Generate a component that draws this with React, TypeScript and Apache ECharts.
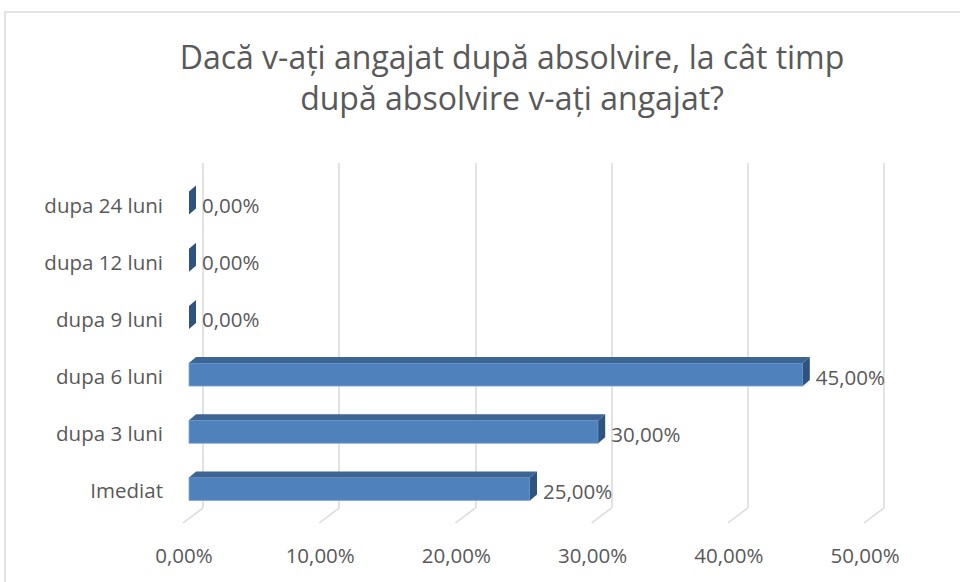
import React, { useEffect, useRef } from "react";
import * as echarts from "echarts";

const titleLines = ["Dacă v-ați angajat după absolvire, la cât timp", "după absolvire v-ați angajat?"];
const categories = ["Imediat", "dupa 3 luni", "dupa 6 luni", "dupa 9 luni", "dupa 12 luni", "dupa 24 luni"];
const values = [25, 30, 45, 0, 0, 0];
const xTicks = [0, 10, 20, 30, 40, 50];

const FONT = "'Open Sans', sans-serif";
const TEXT = "#595959";
const GRID = "#d9d9d9";
const LABEL_SIZE = 20.5;
const fmt = (v: number) => v.toFixed(2).replace(".", ",") + "%";

export default function App() {
  const ref = useRef<HTMLDivElement>(null);
  useEffect(() => {
    if (!ref.current) return;
    const chart = echarts.init(ref.current, null, { renderer: "svg" });
    const D = 7, DY = 6, BH = 23;
    chart.setOption({
      animation: false,
      backgroundColor: "#fff",
      title: {
        text: titleLines.join("\n"),
        left: 507,
        textAlign: "center",
        top: 31,
        textStyle: { fontFamily: FONT, fontSize: 32, fontWeight: "normal", color: TEXT, lineHeight: 41 },
      },
      graphic: [
        { type: "rect", shape: { x: 5, y: 12, width: 1100, height: 700 }, style: { fill: "none", stroke: GRID, lineWidth: 1.5 }, silent: true, z: -10 },
      ],
      grid: [
        { left: 203, width: 681, top: 163, height: 345 },
        { left: 189, width: 682, top: 176, height: 343 },
      ],
      xAxis: [
        {
          gridIndex: 0, type: "value", min: 0, max: 50, interval: 10,
          axisLine: { show: false }, axisTick: { show: false },
          splitLine: { show: true, lineStyle: { color: GRID, width: 1.5 } },
          axisLabel: { formatter: fmt, color: TEXT, fontFamily: FONT, fontSize: LABEL_SIZE, margin: 36, padding: [0, 38, 0, 0] },
        },
        {
          gridIndex: 1, type: "value", min: 0, max: 50, interval: 10, show: false,
        },
      ],
      yAxis: [
        { gridIndex: 0, type: "value", min: 0, max: 1, show: false },
        {
          gridIndex: 1, type: "category", data: categories,
          axisLine: { show: false }, axisTick: { show: false },
          axisLabel: { color: TEXT, fontFamily: FONT, fontSize: LABEL_SIZE, margin: 26 },
        },
      ],
      series: [
        {
          type: "custom",
          xAxisIndex: 0, yAxisIndex: 0,
          data: xTicks,
          silent: true,
          renderItem: (params: any, api: any) => {
            const p = api.coord([api.value(0), 0]);
            return {
              type: "line",
              shape: { x1: p[0], y1: p[1], x2: p[0] - 20, y2: p[1] + 15 },
              style: { stroke: GRID, lineWidth: 1.5 },
            };
          },
        },
        {
          type: "custom",
          xAxisIndex: 1, yAxisIndex: 1,
          data: values.map((v, i) => [v, i]),
          renderItem: (params: any, api: any) => {
            const v = api.value(0);
            const c0 = api.coord([0, api.value(1)]);
            const c1 = api.coord([v, api.value(1)]);
            const x0 = c0[0], x1 = c1[0];
            const yc = c0[1] - 1.5;
            const top = yc - BH / 2, bot = yc + BH / 2;
            const children: any[] = [];
            if (x1 > x0) {
              children.push({
                type: "rect",
                shape: { x: x0, y: top, width: x1 - x0, height: BH },
                style: { fill: "#4f81bd", stroke: "#7ea6d6", lineWidth: 0.8 },
              });
              children.push({
                type: "polygon",
                shape: { points: [[x0, top], [x0 + D, top - DY], [x1 + D, top - DY], [x1, top]] },
                style: { fill: "#3c6593" },
              });
            }
            children.push({
              type: "polygon",
              shape: { points: [[x1, top], [x1 + D, top - DY], [x1 + D, bot - DY], [x1, bot]] },
              style: { fill: "#2f5380" },
            });
            children.push({
              type: "text",
              x: x1 + D + 6,
              y: yc + 2,
              style: { text: fmt(v), fill: TEXT, font: `${LABEL_SIZE}px ${FONT}`, verticalAlign: "middle", align: "left" },
            });
            return { type: "group", children };
          },
        },
      ],
    });
    return () => chart.dispose();
  }, []);
  return <div ref={ref} style={{ width: 960, height: 582, position: "absolute", left: 0, top: 0 }} />;
}
